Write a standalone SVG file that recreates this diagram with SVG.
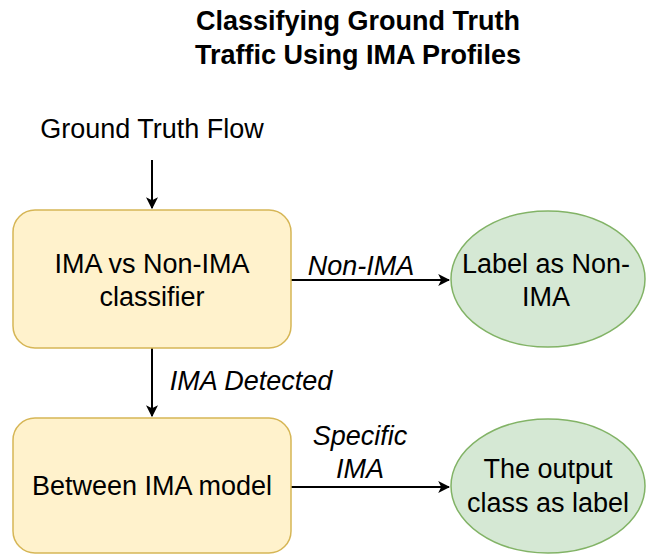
<svg xmlns="http://www.w3.org/2000/svg" width="648" height="554" viewBox="0 0 648 554">
  <style>
    .t { font-family: "Liberation Sans", Arial, sans-serif; font-size: 27px; fill: #000; text-anchor: middle; }
    .title { font-weight: bold; }
    .lbl { font-style: italic; }
    .box { fill: #fff2cc; stroke: #d6b656; stroke-width: 1.5; }
    .out { fill: #d5e8d4; stroke: #82b366; stroke-width: 1.5; }
    .edge { fill: none; stroke: #000; stroke-width: 2; }
  </style>
  <defs>
    <marker id="arrow" viewBox="0 0 10 10" refX="9" refY="5" markerWidth="6" markerHeight="6" orient="auto" markerUnits="strokeWidth">
      <path d="M0,0 L10,5 L0,10 L2.5,5 Z" fill="#000"/>
    </marker>
  </defs>

  <g id="title">
    <text class="t title" x="358" y="30">Classifying Ground Truth</text>
    <text class="t title" x="358" y="64">Traffic Using IMA Profiles</text>
  </g>

  <g id="input">
    <text class="t" x="152" y="138">Ground Truth Flow</text>
  </g>

  <g id="connectors">
    <path class="edge" d="M152,160 L152,208" marker-end="url(#arrow)"/>
    <path class="edge" d="M291,280 L449,280" marker-end="url(#arrow)"/>
    <path class="edge" d="M152,348 L152,416" marker-end="url(#arrow)"/>
    <path class="edge" d="M291,487 L449,487" marker-end="url(#arrow)"/>
    <text class="t lbl" x="361" y="275">Non-IMA</text>
    <text class="t lbl" x="251" y="390">IMA Detected</text>
    <text class="t lbl" x="360" y="445">Specific</text>
    <text class="t lbl" x="360" y="478">IMA</text>
  </g>

  <g id="classifier">
    <rect class="box" x="13" y="210" width="278" height="138" rx="22"/>
    <text class="t" x="152" y="273">IMA vs Non-IMA</text>
    <text class="t" x="152" y="306">classifier</text>
  </g>

  <g id="non-ima">
    <ellipse class="out" cx="548" cy="279" rx="97" ry="68"/>
    <text class="t" x="546" y="273">Label as Non-</text>
    <text class="t" x="546" y="306">IMA</text>
  </g>

  <g id="between-model">
    <rect class="box" x="13" y="418" width="278" height="135" rx="22"/>
    <text class="t" x="152" y="495">Between IMA model</text>
  </g>

  <g id="output-class">
    <ellipse class="out" cx="548" cy="486" rx="97" ry="67"/>
    <text class="t" x="548" y="478">The output</text>
    <text class="t" x="548" y="512">class as label</text>
  </g>
</svg>
